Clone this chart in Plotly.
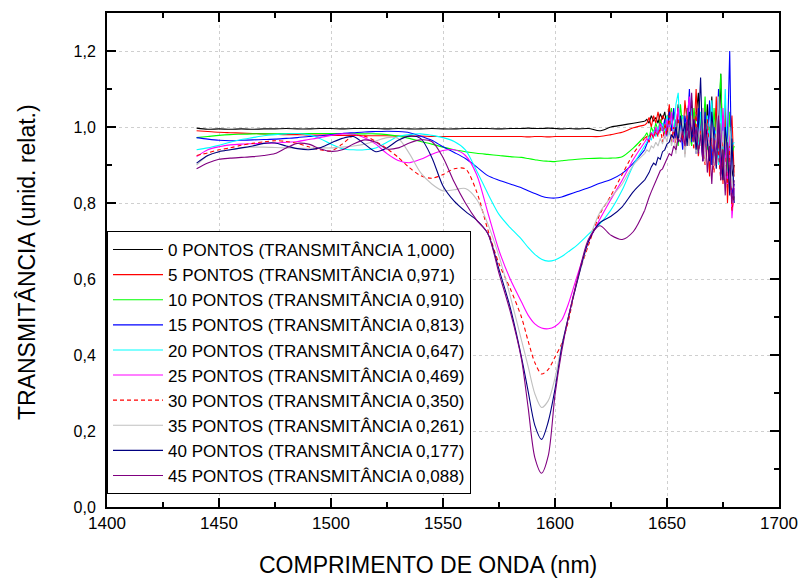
import plotly.graph_objects as go

# ---------------- data ----------------
WL = [1440, 1445, 1450, 1455, 1460, 1465, 1470, 1475, 1480, 1485, 1490, 1495,
      1500, 1505, 1510, 1515, 1520, 1525, 1530, 1535, 1540, 1545, 1550, 1555,
      1560, 1565, 1570, 1575, 1580, 1585, 1588, 1591, 1594, 1597, 1600, 1603,
      1606, 1610, 1615, 1620, 1625, 1630, 1635, 1640]

T_00 = [0.997, 0.994, 0.995, 0.994, 0.995, 0.994, 0.995, 0.995, 0.996, 0.995, 0.995, 0.996,
        0.996, 0.995, 0.996, 0.996, 0.996, 0.995, 0.996, 0.995, 0.995, 0.996, 0.995, 0.995,
        0.996, 0.996, 0.996, 0.995, 0.996, 0.996, 0.997, 0.996, 0.996, 0.997, 0.996, 0.995,
        0.996, 0.995, 0.996, 0.990, 1.000, 1.005, 1.010, 1.015]
T_05 = [0.990, 0.988, 0.986, 0.985, 0.984, 0.983, 0.982, 0.981, 0.980, 0.980, 0.979, 0.979,
        0.978, 0.978, 0.978, 0.977, 0.977, 0.977, 0.976, 0.976, 0.976, 0.975, 0.975, 0.975,
        0.975, 0.975, 0.975, 0.975, 0.975, 0.975, 0.974, 0.975, 0.975, 0.974, 0.975, 0.975,
        0.975, 0.975, 0.975, 0.975, 0.980, 0.986, 0.998, 1.005]
T_10 = [0.972, 0.975, 0.978, 0.980, 0.981, 0.982, 0.982, 0.982, 0.983, 0.983, 0.983, 0.983,
        0.983, 0.983, 0.982, 0.982, 0.982, 0.980, 0.976, 0.970, 0.962, 0.955, 0.947, 0.940,
        0.935, 0.931, 0.928, 0.925, 0.922, 0.920, 0.917, 0.914, 0.911, 0.910, 0.909, 0.911,
        0.913, 0.915, 0.917, 0.918, 0.918, 0.922, 0.945, 0.975]
T_15 = [0.972, 0.968, 0.965, 0.964, 0.965, 0.966, 0.967, 0.968, 0.970, 0.972, 0.975, 0.977,
        0.980, 0.983, 0.985, 0.987, 0.988, 0.989, 0.988, 0.985, 0.976, 0.965, 0.948, 0.933,
        0.917, 0.895, 0.872, 0.860, 0.850, 0.840, 0.832, 0.825, 0.818, 0.814, 0.813, 0.816,
        0.822, 0.830, 0.840, 0.852, 0.862, 0.878, 0.905, 0.940]
T_20 = [0.940, 0.945, 0.952, 0.960, 0.967, 0.972, 0.977, 0.980, 0.982, 0.983, 0.980, 0.970,
        0.955, 0.943, 0.940, 0.940, 0.945, 0.960, 0.975, 0.980, 0.982, 0.978, 0.972, 0.962,
        0.940, 0.885, 0.825, 0.770, 0.735, 0.705, 0.683, 0.665, 0.652, 0.647, 0.650, 0.659,
        0.672, 0.690, 0.718, 0.745, 0.782, 0.834, 0.900, 0.950]
T_25 = [0.922, 0.940, 0.948, 0.953, 0.955, 0.956, 0.957, 0.958, 0.960, 0.962, 0.967, 0.972,
        0.978, 0.982, 0.981, 0.972, 0.955, 0.930, 0.912, 0.906, 0.915, 0.928, 0.938, 0.940,
        0.925, 0.875, 0.775, 0.675, 0.600, 0.540, 0.505, 0.482, 0.471, 0.469, 0.475, 0.492,
        0.535, 0.610, 0.697, 0.757, 0.810, 0.860, 0.915, 0.960]
T_30 = [0.925, 0.932, 0.940, 0.945, 0.952, 0.957, 0.961, 0.964, 0.962, 0.957, 0.948, 0.940,
        0.937, 0.955, 0.977, 0.976, 0.962, 0.943, 0.920, 0.893, 0.872, 0.865, 0.875, 0.890,
        0.890, 0.830, 0.730, 0.640, 0.575, 0.500, 0.437, 0.380, 0.350, 0.362, 0.395, 0.430,
        0.490, 0.600, 0.690, 0.770, 0.820, 0.875, 0.930, 0.970]
T_35 = [0.900, 0.925, 0.935, 0.940, 0.945, 0.947, 0.947, 0.946, 0.945, 0.944, 0.944, 0.945,
        0.945, 0.947, 0.950, 0.955, 0.963, 0.972, 0.970, 0.930, 0.880, 0.850, 0.832, 0.835,
        0.838, 0.810, 0.745, 0.660, 0.555, 0.440, 0.370, 0.298, 0.262, 0.280, 0.340, 0.425,
        0.500, 0.595, 0.700, 0.775, 0.815, 0.850, 0.900, 0.930]
T_40 = [0.905, 0.925, 0.935, 0.940, 0.945, 0.950, 0.957, 0.958, 0.950, 0.943, 0.940, 0.945,
        0.958, 0.970, 0.975, 0.955, 0.935, 0.945, 0.965, 0.976, 0.970, 0.920, 0.845, 0.805,
        0.778, 0.755, 0.720, 0.625, 0.525, 0.395, 0.305, 0.215, 0.178, 0.225, 0.310, 0.420,
        0.500, 0.595, 0.700, 0.748, 0.765, 0.790, 0.830, 0.860]
T_45 = [0.890, 0.905, 0.915, 0.918, 0.920, 0.922, 0.925, 0.930, 0.945, 0.957, 0.955, 0.943,
        0.936, 0.940, 0.955, 0.966, 0.960, 0.942, 0.945, 0.958, 0.966, 0.962, 0.920, 0.855,
        0.800, 0.755, 0.720, 0.615, 0.515, 0.390, 0.262, 0.130, 0.089, 0.135, 0.295, 0.410,
        0.500, 0.600, 0.705, 0.740, 0.715, 0.704, 0.725, 0.780]

NOISE_WL = list(range(1641, 1681))

N_00 = [1.02, 1.01, 1.03, 1.015, 1.025, 1.01, 1.035, 1.02, 1.04, 1.0,
        1.05, 0.99, 1.04, 0.98, 1.06, 1.0, 1.03, 0.96, 1.05, 0.99,
        1.07, 0.97, 1.04, 1.09, 0.95, 1.03, 0.93, 1.06, 0.96, 1.08,
        0.94, 1.05, 0.92, 1.14, 0.90, 1.02, 0.88, 0.99, 0.87, 0.90]
N_05 = [1.01, 1.025, 1.0, 1.03, 1.01, 1.04, 1.005, 1.03, 1.02, 0.99,
        1.06, 1.0, 1.04, 0.97, 1.05, 1.01, 0.96, 1.07, 1.0, 0.95,
        1.05, 0.98, 1.10, 0.96, 1.02, 0.91, 1.06, 0.98, 0.87, 1.04,
        0.93, 1.08, 0.90, 1.01, 0.85, 1.06, 0.80, 0.96, 1.03, 0.87]
N_10 = [0.985, 0.97, 1.0, 0.985, 1.01, 0.99, 1.02, 1.0, 0.98, 1.03,
        0.99, 1.05, 0.97, 1.02, 0.95, 1.06, 1.0, 0.97, 1.04, 0.99,
        0.95, 1.05, 1.0, 0.93, 1.03, 0.97, 1.08, 0.94, 1.0, 0.90,
        1.05, 0.96, 1.03, 1.14, 0.92, 1.0, 0.88, 1.04, 0.93, 0.95]
N_15 = [0.955, 0.97, 0.985, 0.975, 0.995, 0.98, 1.01, 0.99, 1.02, 0.975,
        1.04, 0.99, 1.05, 0.97, 1.02, 1.0, 0.94, 1.03, 0.99, 1.10,
        0.96, 1.01, 0.93, 1.05, 0.98, 0.91, 1.04, 0.95, 1.07, 0.90,
        1.0, 0.94, 1.10, 0.88, 1.03, 0.92, 0.97, 1.20, 0.82, 0.85]
N_20 = [0.96, 0.975, 0.965, 0.99, 0.975, 1.0, 0.985, 1.01, 0.99, 1.03,
        0.98, 1.02, 0.99, 1.06, 1.09, 0.97, 1.03, 0.95, 1.02, 0.98,
        1.05, 0.96, 1.0, 0.94, 1.04, 0.99, 0.93, 1.03, 0.96, 1.07,
        0.95, 1.0, 0.90, 1.05, 0.94, 1.10, 0.92, 0.99, 0.95, 0.96]
N_25 = [0.97, 0.96, 0.985, 0.975, 1.0, 0.98, 1.01, 0.995, 0.97, 1.02,
        0.99, 1.04, 0.96, 1.01, 1.05, 0.97, 1.0, 0.95, 1.03, 1.08,
        0.98, 1.02, 0.94, 1.0, 0.97, 1.05, 0.92, 0.99, 0.95, 1.03,
        0.90, 0.97, 1.02, 0.88, 1.05, 0.93, 0.85, 0.98, 0.76, 0.84]
N_30 = [0.975, 0.96, 0.985, 0.97, 0.99, 0.975, 1.0, 0.96, 1.01, 0.98,
        1.03, 0.96, 1.0, 0.94, 1.02, 0.97, 0.99, 0.93, 1.03, 0.96,
        1.0, 0.94, 1.04, 0.92, 0.99, 0.96, 0.90, 1.02, 0.93, 0.97,
        0.88, 1.0, 0.94, 0.86, 0.98, 0.91, 0.84, 0.95, 0.78, 0.82]
N_35 = [0.94, 0.935, 0.95, 0.945, 0.96, 0.95, 0.97, 0.955, 0.98, 0.96,
        1.0, 0.95, 0.98, 0.93, 1.01, 0.97, 1.02, 0.92, 0.99, 0.95,
        1.03, 0.97, 0.93, 1.0, 0.95, 1.05, 0.91, 0.98, 0.94, 1.02,
        0.90, 0.97, 1.08, 0.92, 0.99, 0.87, 0.95, 1.0, 0.84, 0.88]
N_40 = [0.87, 0.88, 0.895, 0.905, 0.90, 0.92, 0.915, 0.935, 0.94, 0.955,
        0.96, 0.98, 0.97, 1.0, 0.96, 1.03, 0.98, 1.01, 0.95, 1.04,
        0.97, 1.02, 0.94, 1.0, 1.13, 0.93, 1.02, 0.96, 0.91, 1.04,
        0.95, 0.89, 1.02, 0.93, 0.86, 1.0, 0.94, 0.82, 0.97, 0.80]
N_45 = [0.80, 0.815, 0.83, 0.845, 0.86, 0.87, 0.885, 0.89, 0.905, 0.915,
        0.93, 0.925, 0.95, 0.94, 0.97, 0.96, 0.99, 0.95, 1.02, 0.97,
        1.09, 0.96, 1.0, 0.93, 0.98, 0.91, 1.01, 0.88, 0.95, 0.85,
        0.97, 0.90, 1.03, 0.86, 0.94, 0.82, 0.96, 0.88, 0.80, 0.86]

NAMES = ["0 PONTOS (TRANSMITÂNCIA 1,000)", "5 PONTOS (TRANSMITÂNCIA 0,971)",
         "10 PONTOS (TRANSMITÂNCIA 0,910)", "15 PONTOS (TRANSMITÂNCIA 0,813)",
         "20 PONTOS (TRANSMITÂNCIA 0,647)", "25 PONTOS (TRANSMITÂNCIA 0,469)",
         "30 PONTOS (TRANSMITÂNCIA 0,350)", "35 PONTOS (TRANSMITÂNCIA 0,261)",
         "40 PONTOS (TRANSMITÂNCIA 0,177)", "45 PONTOS (TRANSMITÂNCIA 0,088)"]
SMOOTH = [T_00, T_05, T_10, T_15, T_20, T_25, T_30, T_35, T_40, T_45]
NOISE = [N_00, N_05, N_10, N_15, N_20, N_25, N_30, N_35, N_40, N_45]
COLORS = ["#000000", "#ff0000", "#00ff00", "#0000ff", "#00ffff",
          "#ff00ff", "#ff0000", "#c0c0c0", "#000080", "#800080"]
DASHES = ["solid"] * 6 + ["4px,3px"] + ["solid"] * 3

X_TICKS = [1400, 1450, 1500, 1550, 1600, 1650, 1700]
X_MINOR = [1425, 1475, 1525, 1575, 1625, 1675]
Y_TICKS = [0.0, 0.2, 0.4, 0.6, 0.8, 1.0, 1.2]
Y_MINOR = [0.1, 0.3, 0.5, 0.7, 0.9, 1.1]
X_TITLE = "COMPRIMENTO DE ONDA (nm)"
Y_TITLE = "TRANSMITÂNCIA (unid. relat.)"

# ---------------- figure ----------------
FONT = "Liberation Sans, Arial, sans-serif"
fig = go.Figure()
for i in range(len(NAMES)):
    line = dict(color=COLORS[i], width=1.1, dash=DASHES[i])
    fig.add_trace(go.Scatter(
        x=WL, y=SMOOTH[i], mode="lines", name=NAMES[i], legendgroup=str(i),
        line=dict(line, shape="spline", smoothing=0.8), showlegend=True))
    fig.add_trace(go.Scatter(
        x=[WL[-1]] + NOISE_WL, y=[SMOOTH[i][-1]] + NOISE[i], mode="lines",
        name=NAMES[i], legendgroup=str(i), line=dict(line, shape="linear"),
        showlegend=False))

axis_common = dict(
    showline=True, linecolor="black", linewidth=2, mirror="allticks",
    ticks="inside", ticklen=9, tickwidth=2, tickcolor="black",
    showgrid=True, gridcolor="#cfcfcf", griddash="dot", gridwidth=1,
    zeroline=False, automargin=False,
)
fig.update_xaxes(
    **axis_common, range=[1400, 1700], tickvals=X_TICKS,
    tickfont=dict(family=FONT, size=17, color="black"),
    minor=dict(tickvals=X_MINOR, ticks="inside", ticklen=5, tickwidth=1.5,
               tickcolor="black", showgrid=False),
)
fig.update_yaxes(
    **axis_common, range=[0, 1.3], tickvals=Y_TICKS, tickformat=".1f",
    tickfont=dict(family=FONT, size=16, color="black"),
    minor=dict(tickvals=Y_MINOR, ticks="inside", ticklen=5, tickwidth=1.5,
               tickcolor="black", showgrid=False),
    ticklabelstandoff=6,
)
fig.add_annotation(text=X_TITLE, xref="paper", yref="paper", x=0.4777, y=-0.1174,
                   xanchor="center", yanchor="middle", showarrow=False,
                   font=dict(family=FONT, size=23, color="black"))
fig.add_annotation(text=Y_TITLE, xref="paper", yref="paper", x=-0.119, y=0.496,
                   xanchor="center", yanchor="middle", showarrow=False, textangle=-90,
                   font=dict(family=FONT, size=23, color="black"))
fig.update_layout(
    width=804, height=581, separators=",.",
    margin=dict(l=107, r=25, t=13, b=74),
    paper_bgcolor="white", plot_bgcolor="white",
    font=dict(family=FONT, color="black"),
    legend=dict(x=0, y=0.0263, xanchor="left", yanchor="bottom",
                bgcolor="white", bordercolor="black", borderwidth=1,
                font=dict(family=FONT, size=17, color="black"),
                itemwidth=50, tracegroupgap=0, traceorder="normal"),
)
fig.write_html("out.html", config={"displayModeBar": False})

# remove the browser's default page margin so the figure sits at the window origin
with open("out.html", "r", encoding="utf-8") as fh:
    page = fh.read()
page = page.replace("<head>", "<head><style>html,body{margin:0;padding:0;overflow:hidden;}</style>", 1)
with open("out.html", "w", encoding="utf-8") as fh:
    fh.write(page)
